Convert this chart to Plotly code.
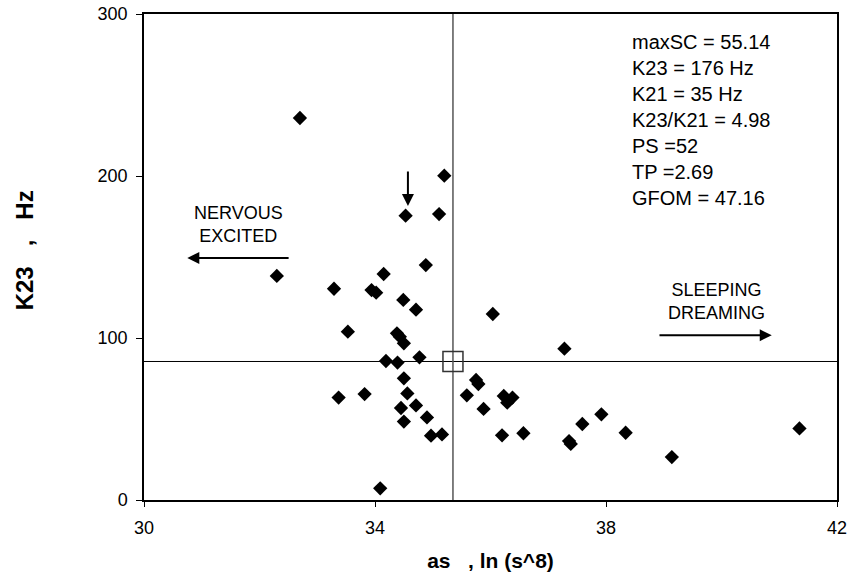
import plotly.graph_objects as go

# Data points (as, ln(s^8)) vs K23 (Hz)
x_vals = [32.70, 35.20, 34.53, 35.11, 34.88, 32.30, 34.15, 33.29, 33.94, 34.02,
          34.49, 34.71, 36.04, 33.53, 34.38, 34.43, 34.50, 37.28, 34.19, 34.39,
          34.77, 34.50, 35.75, 35.79, 33.37, 33.82, 34.56, 35.59, 36.23, 36.38,
          36.29, 34.45, 34.71, 35.88, 34.90, 34.50, 34.97, 35.16, 36.20, 36.57,
          37.36, 37.39, 37.59, 34.09, 37.92, 38.34, 39.14, 41.35]
y_vals = [235.8, 200.2, 175.5, 176.5, 145.0, 138.3, 139.5, 130.4, 129.6, 128.0,
          123.5, 117.5, 114.8, 103.9, 102.9, 100.8, 96.7, 93.4, 85.8, 84.8,
          88.1, 75.1, 74.1, 71.6, 63.2, 65.4, 65.8, 64.6, 64.2, 63.2,
          60.1, 56.8, 58.4, 56.2, 51.0, 48.4, 39.7, 40.5, 39.9, 41.2,
          36.4, 34.6, 46.9, 7.2, 52.9, 41.5, 26.5, 44.2]

# Reference (centre) point
ref_x = [35.35]
ref_y = [85.5]

x_ticks = [30, 34, 38, 42]
y_ticks = [0, 100, 200, 300]

stats_lines = ["maxSC = 55.14", "K23 = 176 Hz", "K21 = 35 Hz", "K23/K21 = 4.98",
               "PS =52", "TP =2.69", "GFOM = 47.16"]

FONT = "Liberation Sans, Arial, sans-serif"

fig = go.Figure()
fig.add_trace(go.Scatter(
    x=x_vals, y=y_vals, mode="markers",
    marker=dict(symbol="diamond", size=11, color="black", line=dict(width=0)),
    showlegend=False, hoverinfo="skip"))
fig.add_trace(go.Scatter(
    x=ref_x, y=ref_y, mode="markers",
    marker=dict(symbol="square-open", size=20, color="#333333", line=dict(width=1.5)),
    showlegend=False, hoverinfo="skip"))

# reference lines through centre
fig.add_shape(type="line", xref="paper", yref="y", x0=0, x1=1, y0=ref_y[0], y1=ref_y[0],
              line=dict(color="black", width=1), layer="below")
fig.add_shape(type="line", xref="x", yref="paper", x0=ref_x[0], x1=ref_x[0], y0=0, y1=1,
              line=dict(color="#555555", width=1.5), layer="below")

# stats text
fig.add_annotation(x=38.42, y=0.97, xref="x", yref="paper", xanchor="left", yanchor="top",
                   text="<br>".join(stats_lines), showarrow=False, align="left",
                   font=dict(family=FONT, size=20, color="black"))

# NERVOUS / EXCITED
fig.add_annotation(x=31.63, y=170, xref="x", yref="y", text="NERVOUS<br>EXCITED",
                   showarrow=False, align="center",
                   font=dict(family=FONT, size=18, color="black"))
fig.add_annotation(x=30.75, y=149.4, ax=32.53, ay=149.4, xref="x", yref="y",
                   axref="x", ayref="y", text="", showarrow=True,
                   arrowhead=2, arrowsize=1.2, arrowwidth=2, arrowcolor="black")

# SLEEPING / DREAMING
fig.add_annotation(x=39.91, y=122.5, xref="x", yref="y", text="SLEEPING<br>DREAMING",
                   showarrow=False, align="center",
                   font=dict(family=FONT, size=18, color="black"))
fig.add_annotation(x=40.87, y=101.7, ax=38.90, ay=101.7, xref="x", yref="y",
                   axref="x", ayref="y", text="", showarrow=True,
                   arrowhead=2, arrowsize=1.2, arrowwidth=2, arrowcolor="black")

# down arrow
fig.add_annotation(x=34.57, y=181.5, ax=34.57, ay=203.7, xref="x", yref="y",
                   axref="x", ayref="y", text="", showarrow=True,
                   arrowhead=2, arrowsize=1.2, arrowwidth=2, arrowcolor="black")

fig.update_layout(
    width=854, height=575,
    margin=dict(l=144, r=17, t=14, b=75, autoexpand=False),
    paper_bgcolor="white", plot_bgcolor="white",
    font=dict(family=FONT, color="black"),
    xaxis=dict(range=[30, 42], tickvals=x_ticks, ticktext=[str(v) for v in x_ticks],
               showgrid=False, zeroline=False, showline=True, linecolor="black",
               linewidth=1.5, mirror=True, ticks="outside", ticklen=5, tickwidth=1,
               tickcolor="black", tickfont=dict(size=18, family=FONT),
               ticklabelstandoff=6, ticklabeloverflow="allow", automargin=False,
               title=dict(text="<b>as&nbsp;&nbsp;&nbsp;, ln (s^8)</b>", standoff=16,
                          font=dict(size=21, family=FONT))),
    yaxis=dict(range=[0, 300], tickvals=y_ticks, ticktext=[str(v) for v in y_ticks],
               showgrid=False, zeroline=False, showline=True, linecolor="black",
               linewidth=1.5, mirror=True, ticks="outside", ticklen=6, tickwidth=1,
               tickcolor="black", tickfont=dict(size=18, family=FONT),
               ticklabelstandoff=5, ticklabeloverflow="allow", automargin=False,
               title=dict(text="<b>&nbsp;&nbsp;K23&nbsp;&nbsp;&nbsp;,&nbsp;&nbsp;&nbsp;Hz</b>",
                          standoff=57, font=dict(size=24, family=FONT))),
)

fig.write_html("out.html", config={"displayModeBar": False},
               post_script="document.body.style.margin='0';document.body.style.overflow='hidden';")
